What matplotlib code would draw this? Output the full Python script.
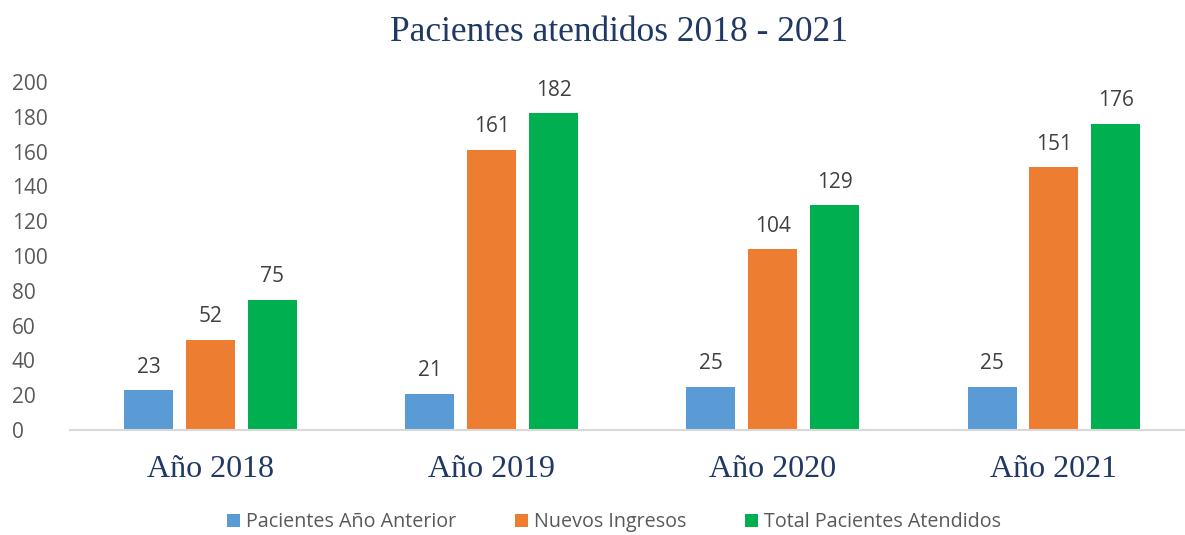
import numpy as np
import matplotlib
matplotlib.use("Agg")
import matplotlib.pyplot as plt

# datos
anios = ["Año 2018", "Año 2019", "Año 2020", "Año 2021"]
series = ["Pacientes Año Anterior", "Nuevos Ingresos", "Total Pacientes Atendidos"]
anterior = [23, 21, 25, 25]
nuevos = [52, 161, 104, 151]
total = [75, 182, 129, 176]
colores = ["#5B9BD5", "#ED7D31", "#00B050"]

fig = plt.figure(figsize=(11.85, 5.35), dpi=100)
ax = fig.add_axes([0.059, 0.196, 0.949, 0.651])

x = np.arange(len(anios))
ancho = 0.174
paso = 0.22

barras = []
for i, (vals, c) in enumerate(zip([anterior, nuevos, total], colores)):
    b = ax.bar(x + (i - 1) * paso, vals, ancho, color=c, label=series[i], zorder=2)
    barras.append(b)
    for xi, v in zip(x + (i - 1) * paso, vals):
        ax.annotate(str(v), (xi, v), xytext=(0, 9), textcoords="offset points",
                    ha="center", va="bottom", fontsize=15, color="#404040",
                    family="Open Sans")

ax.set_xlim(-0.5, 3.5)
ax.set_ylim(0, 200)
ax.set_yticks(range(0, 201, 20))
ax.set_xticks(x)
ax.set_xticklabels(anios, fontsize=23, family="Liberation Serif", color="#1F3864")
for lbl in ax.get_yticklabels():
    lbl.set_fontsize(15)
    lbl.set_family("Open Sans")
    lbl.set_color("#595959")
    lbl.set_horizontalalignment("left")
ax.tick_params(axis="both", length=0)
ax.tick_params(axis="y", pad=42)
ax.tick_params(axis="x", pad=18)
for s in ["top", "right", "left"]:
    ax.spines[s].set_visible(False)
ax.spines["bottom"].set_color("#D9D9D9")
ax.spines["bottom"].set_linewidth(1.5)

fig.text(0.522, 0.94, "Pacientes atendidos 2018 - 2021", ha="center", va="center",
         fontsize=25.5, family="Liberation Serif", color="#1F3864")

fig.legend(handles=barras, labels=series, loc="center", bbox_to_anchor=(0.518, 0.024),
           ncol=3, frameon=False, handlelength=0.65, handleheight=0.65,
           handletextpad=0.3, columnspacing=3.0,
           prop={"family": "Open Sans", "size": 14.2}, labelcolor="#595959")

fig.savefig("out.png", dpi=100)
